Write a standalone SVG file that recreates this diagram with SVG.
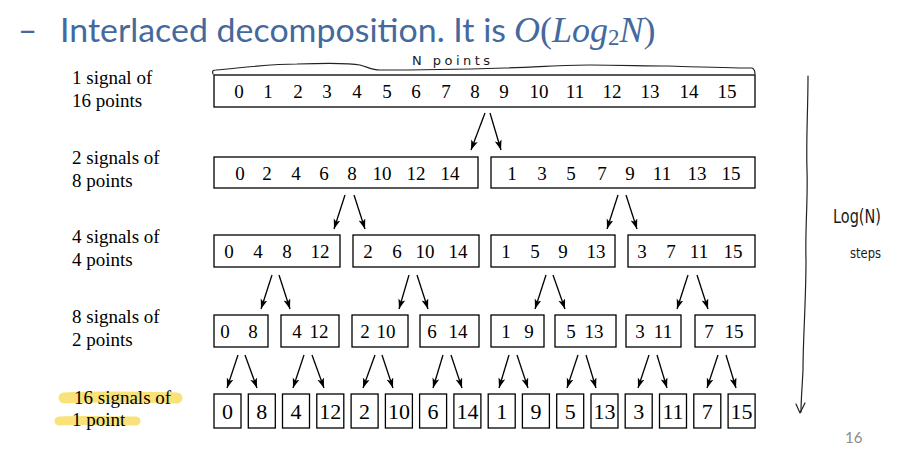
<svg xmlns="http://www.w3.org/2000/svg" width="921" height="461" viewBox="0 0 921 461">
  <style>
    .bg { fill: #ffffff; }
    .box { fill: #ffffff; stroke: #000000; stroke-width: 1.3; }
    .num { font-family: "Liberation Serif", "Times New Roman", serif; font-size: 19px; fill: #000000; text-anchor: middle; }
    .num1 { font-family: "Liberation Serif", "Times New Roman", serif; font-size: 22px; fill: #000000; text-anchor: middle; }
    .lbl { font-family: "Liberation Serif", "Times New Roman", serif; font-size: 19px; fill: #000000; }
    .arrow { stroke: #000000; stroke-width: 1.3; fill: none; marker-end: url(#head); }
    .title { font-family: Lato, "Open Sans", "Liberation Sans", sans-serif; font-size: 33px; fill: #44699D; }
    .math { font-family: "Liberation Serif", "Times New Roman", serif; font-size: 36px; fill: #44699D; }
    .hand { font-family: "DejaVu Sans", sans-serif; font-weight: 400; fill: #1a1a1a; }
    .ink { stroke: #222222; stroke-width: 1.2; fill: none; stroke-linecap: round; stroke-linejoin: round; }
    .mark { stroke: #F9E27A; stroke-linecap: round; fill: none; }
    .pg { font-family: Lato, "Open Sans", "Liberation Sans", sans-serif; font-size: 15px; fill: #8C8C8C; }
  </style>
  <defs>
    <marker id="head" markerUnits="userSpaceOnUse" markerWidth="11" markerHeight="8" refX="10" refY="3.5" orient="auto">
      <path d="M0,0 L10,3.5 L0,7 L2.5,3.5 z" fill="#000000"/>
    </marker>
  </defs>

  <rect class="bg" x="0" y="0" width="921" height="461"/>

  <!-- heading -->
  <g id="title">
    <text class="title" x="18" y="42">–</text>
    <text class="title" x="60" y="42" textLength="446" lengthAdjust="spacingAndGlyphs">Interlaced decomposition. It is</text>
    <text class="math" x="514" y="42"><tspan font-style="italic">O</tspan><tspan>(</tspan><tspan font-style="italic">Log</tspan><tspan font-size="23px" dy="3">2</tspan><tspan font-style="italic" dy="-3">N</tspan><tspan>)</tspan></text>
  </g>

  <!-- highlighter strokes behind the last label -->
  <g id="highlight">
    <path class="mark" stroke-width="11" d="M64,398 C100,396 140,397 177,398"/>
    <path class="mark" stroke-width="9" d="M59,421 C85,420 110,421 136,421"/>
  </g>

  <!-- stage labels -->
  <g id="labels">
    <text class="lbl" x="72" y="84">1 signal of</text>
    <text class="lbl" x="72" y="107">16 points</text>
    <text class="lbl" x="72" y="164">2 signals of</text>
    <text class="lbl" x="72" y="187">8 points</text>
    <text class="lbl" x="72" y="243">4 signals of</text>
    <text class="lbl" x="72" y="266">4 points</text>
    <text class="lbl" x="72" y="323">8 signals of</text>
    <text class="lbl" x="72" y="346">2 points</text>
    <text class="lbl" x="74" y="404">16 signals of</text>
    <text class="lbl" x="72" y="426">1 point</text>
  </g>

  <!-- stage 1: one signal of 16 points -->
  <g id="s1">
    <rect class="box" x="214" y="75" width="541" height="32"/>
    <text class="num" y="98"><tspan x="239">0</tspan><tspan x="268">1</tspan><tspan x="298">2</tspan><tspan x="327">3</tspan><tspan x="357">4</tspan><tspan x="387">5</tspan><tspan x="416">6</tspan><tspan x="446">7</tspan><tspan x="475">8</tspan><tspan x="504">9</tspan><tspan x="539">10</tspan><tspan x="575">11</tspan><tspan x="612">12</tspan><tspan x="650">13</tspan><tspan x="689">14</tspan><tspan x="727">15</tspan></text>
  </g>

  <!-- stage 2: two signals of 8 points -->
  <g id="s2a">
    <rect class="box" x="214" y="157" width="264" height="31"/>
    <text class="num" y="180"><tspan x="240">0</tspan><tspan x="267">2</tspan><tspan x="296">4</tspan><tspan x="324">6</tspan><tspan x="352">8</tspan><tspan x="382">10</tspan><tspan x="416">12</tspan><tspan x="450">14</tspan></text>
  </g>
  <g id="s2b">
    <rect class="box" x="491" y="157" width="264" height="31"/>
    <text class="num" y="180"><tspan x="512">1</tspan><tspan x="542">3</tspan><tspan x="571">5</tspan><tspan x="602">7</tspan><tspan x="630">9</tspan><tspan x="662">11</tspan><tspan x="697">13</tspan><tspan x="731">15</tspan></text>
  </g>

  <!-- stage 3: four signals of 4 points -->
  <g id="s3a">
    <rect class="box" x="214" y="235" width="126" height="32"/>
    <text class="num" y="258"><tspan x="229">0</tspan><tspan x="258">4</tspan><tspan x="287">8</tspan><tspan x="320">12</tspan></text>
  </g>
  <g id="s3b">
    <rect class="box" x="353" y="235" width="126" height="32"/>
    <text class="num" y="258"><tspan x="368">2</tspan><tspan x="397">6</tspan><tspan x="425">10</tspan><tspan x="458">14</tspan></text>
  </g>
  <g id="s3c">
    <rect class="box" x="491" y="235" width="124" height="32"/>
    <text class="num" y="258"><tspan x="506">1</tspan><tspan x="535">5</tspan><tspan x="563">9</tspan><tspan x="596">13</tspan></text>
  </g>
  <g id="s3d">
    <rect class="box" x="628" y="235" width="127" height="32"/>
    <text class="num" y="258"><tspan x="642">3</tspan><tspan x="671">7</tspan><tspan x="699">11</tspan><tspan x="733">15</tspan></text>
  </g>

  <!-- stage 4: eight signals of 2 points -->
  <g id="s4a"><rect class="box" x="214" y="315" width="54" height="32"/><text class="num" y="338"><tspan x="225">0</tspan><tspan x="253">8</tspan></text></g>
  <g id="s4b"><rect class="box" x="281" y="315" width="58" height="32"/><text class="num" y="338"><tspan x="297">4</tspan><tspan x="319">12</tspan></text></g>
  <g id="s4c"><rect class="box" x="352" y="315" width="56" height="32"/><text class="num" y="338"><tspan x="365">2</tspan><tspan x="386">10</tspan></text></g>
  <g id="s4d"><rect class="box" x="420" y="315" width="59" height="32"/><text class="num" y="338"><tspan x="432">6</tspan><tspan x="458">14</tspan></text></g>
  <g id="s4e"><rect class="box" x="491" y="315" width="53" height="32"/><text class="num" y="338"><tspan x="506">1</tspan><tspan x="529">9</tspan></text></g>
  <g id="s4f"><rect class="box" x="555" y="315" width="61" height="32"/><text class="num" y="338"><tspan x="571">5</tspan><tspan x="594">13</tspan></text></g>
  <g id="s4g"><rect class="box" x="626" y="315" width="55" height="32"/><text class="num" y="338"><tspan x="640">3</tspan><tspan x="663">11</tspan></text></g>
  <g id="s4h"><rect class="box" x="695" y="315" width="60" height="32"/><text class="num" y="338"><tspan x="709">7</tspan><tspan x="734">15</tspan></text></g>

  <!-- stage 5: sixteen signals of 1 point -->
  <g id="s5-0"><rect class="box" x="214" y="394" width="27" height="34"/><text class="num1" x="227.5" y="419">0</text></g>
  <g id="s5-8"><rect class="box" x="248.3" y="394" width="27" height="34"/><text class="num1" x="261.8" y="419">8</text></g>
  <g id="s5-4"><rect class="box" x="282.5" y="394" width="27" height="34"/><text class="num1" x="296" y="419">4</text></g>
  <g id="s5-12"><rect class="box" x="316.8" y="394" width="27" height="34"/><text class="num1" x="330.3" y="419">12</text></g>
  <g id="s5-2"><rect class="box" x="351.1" y="394" width="27" height="34"/><text class="num1" x="364.6" y="419">2</text></g>
  <g id="s5-10"><rect class="box" x="385.4" y="394" width="27" height="34"/><text class="num1" x="398.9" y="419">10</text></g>
  <g id="s5-6"><rect class="box" x="419.6" y="394" width="27" height="34"/><text class="num1" x="433.1" y="419">6</text></g>
  <g id="s5-14"><rect class="box" x="453.9" y="394" width="27" height="34"/><text class="num1" x="467.4" y="419">14</text></g>
  <g id="s5-1"><rect class="box" x="488.2" y="394" width="27" height="34"/><text class="num1" x="501.7" y="419">1</text></g>
  <g id="s5-9"><rect class="box" x="522.4" y="394" width="27" height="34"/><text class="num1" x="535.9" y="419">9</text></g>
  <g id="s5-5"><rect class="box" x="556.7" y="394" width="27" height="34"/><text class="num1" x="570.2" y="419">5</text></g>
  <g id="s5-13"><rect class="box" x="591" y="394" width="27" height="34"/><text class="num1" x="604.5" y="419">13</text></g>
  <g id="s5-3"><rect class="box" x="625.2" y="394" width="27" height="34"/><text class="num1" x="638.7" y="419">3</text></g>
  <g id="s5-11"><rect class="box" x="659.5" y="394" width="27" height="34"/><text class="num1" x="673" y="419">11</text></g>
  <g id="s5-7"><rect class="box" x="693.8" y="394" width="27" height="34"/><text class="num1" x="707.3" y="419">7</text></g>
  <g id="s5-15"><rect class="box" x="728.1" y="394" width="27" height="34"/><text class="num1" x="741.6" y="419">15</text></g>

  <!-- split arrows between stages -->
  <g id="connectors">
    <line class="arrow" x1="485" y1="113" x2="471" y2="150"/>
    <line class="arrow" x1="490" y1="113" x2="501" y2="150"/>

    <line class="arrow" x1="345" y1="195" x2="334" y2="229"/>
    <line class="arrow" x1="354" y1="195" x2="365" y2="229"/>
    <line class="arrow" x1="618" y1="195" x2="607" y2="229"/>
    <line class="arrow" x1="626" y1="195" x2="637" y2="229"/>

    <line class="arrow" x1="272" y1="275" x2="261" y2="309"/>
    <line class="arrow" x1="279" y1="275" x2="290" y2="309"/>
    <line class="arrow" x1="409" y1="275" x2="399" y2="309"/>
    <line class="arrow" x1="417" y1="275" x2="428" y2="309"/>
    <line class="arrow" x1="546" y1="275" x2="535" y2="309"/>
    <line class="arrow" x1="553" y1="275" x2="565" y2="309"/>
    <line class="arrow" x1="688" y1="275" x2="677" y2="309"/>
    <line class="arrow" x1="697" y1="275" x2="708" y2="309"/>

    <line class="arrow" x1="238" y1="355" x2="227" y2="388"/>
    <line class="arrow" x1="245" y1="355" x2="257" y2="388"/>
    <line class="arrow" x1="304" y1="355" x2="293" y2="388"/>
    <line class="arrow" x1="312" y1="355" x2="324" y2="388"/>
    <line class="arrow" x1="375" y1="355" x2="363" y2="388"/>
    <line class="arrow" x1="382" y1="355" x2="393" y2="388"/>
    <line class="arrow" x1="443" y1="355" x2="433" y2="388"/>
    <line class="arrow" x1="451" y1="355" x2="462" y2="388"/>
    <line class="arrow" x1="509" y1="355" x2="499" y2="388"/>
    <line class="arrow" x1="517" y1="355" x2="528" y2="388"/>
    <line class="arrow" x1="578" y1="355" x2="567" y2="388"/>
    <line class="arrow" x1="586" y1="355" x2="596" y2="388"/>
    <line class="arrow" x1="649" y1="355" x2="638" y2="388"/>
    <line class="arrow" x1="657" y1="355" x2="667" y2="388"/>
    <line class="arrow" x1="718" y1="355" x2="707" y2="388"/>
    <line class="arrow" x1="726" y1="355" x2="736" y2="388"/>
  </g>

  <!-- pen notes: brace over the first signal, step arrow on the right -->
  <g id="brace">
    <path class="ink" d="M213,74 C212,71 213,70 216,70 C240,68 270,64 297,64 C330,63 350,63 360,65 C368,67 372,70 380,70 C420,70 470,69 505,68 C540,67 565,65 590,65 C620,65 645,66 668,66 C700,67 730,68 752,68 C754,69 755,71 755,74"/>
    <text class="hand" x="412" y="65" font-size="13" textLength="78" lengthAdjust="spacing">N points</text>
  </g>
  <g id="steps">
    <path class="ink" d="M808,76 C808,110 806,140 807,170 C808,200 805,230 806,260 C806,300 803,340 803,370 C802,390 801,400 801,412"/>
    <path class="ink" d="M796,404 L800,413 L805,403"/>
    <text class="hand" x="833" y="223" font-size="20" textLength="48" lengthAdjust="spacingAndGlyphs">Log(N)</text>
    <text class="hand" x="850" y="258" font-size="14" textLength="31" lengthAdjust="spacingAndGlyphs">steps</text>
  </g>

  <text class="pg" x="845" y="443">16</text>
</svg>
